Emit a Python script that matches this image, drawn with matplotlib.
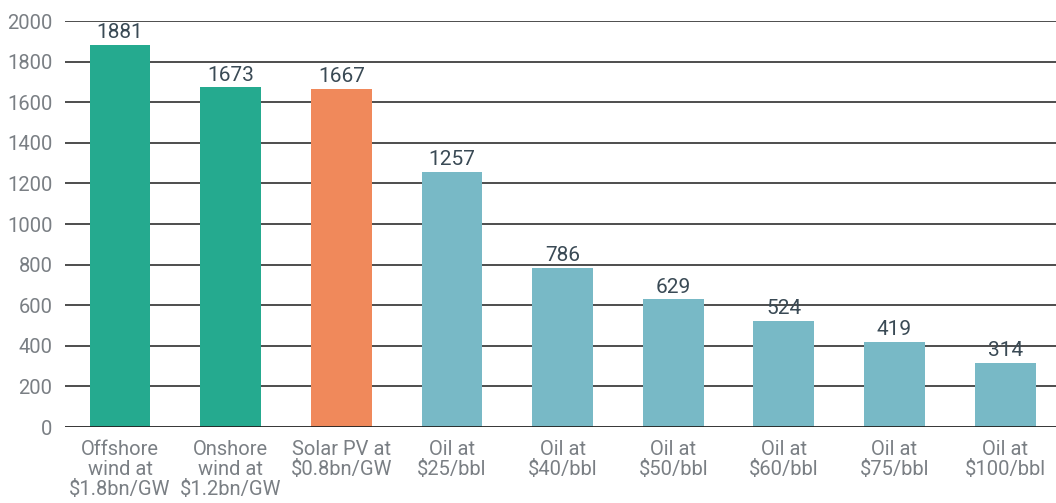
import matplotlib
matplotlib.use("Agg")
import matplotlib.pyplot as plt
import numpy as np

categories = [
    "Offshore\nwind at\n$1.8bn/GW",
    "Onshore\nwind at\n$1.2bn/GW",
    "Solar PV at\n$0.8bn/GW",
    "Oil at\n$25/bbl",
    "Oil at\n$40/bbl",
    "Oil at\n$50/bbl",
    "Oil at\n$60/bbl",
    "Oil at\n$75/bbl",
    "Oil at\n$100/bbl",
]
values = [1881, 1673, 1667, 1257, 786, 629, 524, 419, 314]
colors = ["#25aa8f", "#25aa8f", "#f0895b"] + ["#78b9c6"] * 6
y_ticks = [0, 200, 400, 600, 800, 1000, 1200, 1400, 1600, 1800, 2000]

plt.rcParams["font.family"] = ["Roboto", "DejaVu Sans"]

fig = plt.figure(figsize=(10.56, 5.03), dpi=100)
ax = fig.add_axes([0.0616, 0.151, 0.9384, 0.807])

x = np.arange(len(values))
for t in y_ticks[1:]:
    ax.axhline(t, color="#3f3f3f", linewidth=1.3, zorder=0)
ax.axhline(0, color="#222222", linewidth=2, zorder=3)

ax.bar(x, values, width=0.55, color=colors, zorder=2)
for xi, v in zip(x, values):
    ax.text(xi, v + 14, str(v), ha="center", va="bottom",
            fontsize=15, color="#3a4a55")

ax.set_xlim(-0.497, 8.46)
ax.set_ylim(0, 2000)
ax.set_yticks(y_ticks)
ax.set_yticklabels([str(t) for t in y_ticks], fontsize=14.5, color="#7a7f84")
ax.set_xticks(x)
ax.set_xticklabels(categories, fontsize=14.5, color="#7a7f84", linespacing=1.08)
ax.tick_params(axis="y", length=0, pad=9)
ax.tick_params(axis="x", length=0, pad=9)
for s in ax.spines.values():
    s.set_visible(False)

fig.savefig("out.png", dpi=100)
